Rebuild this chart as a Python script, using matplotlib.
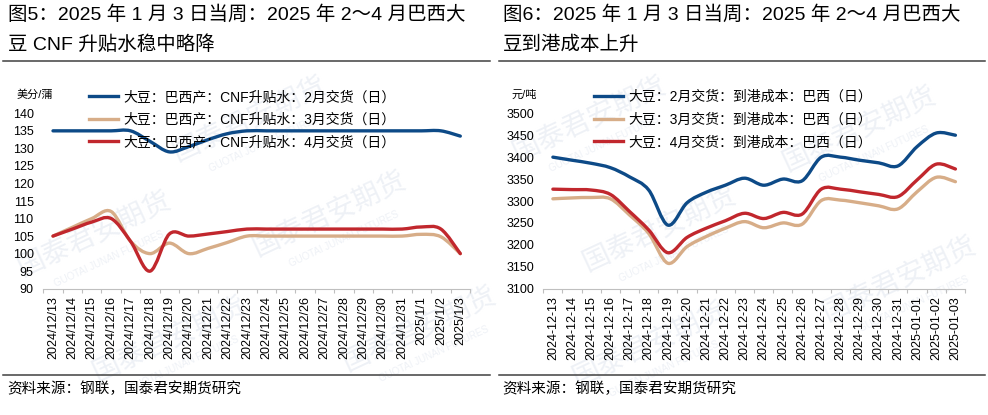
import numpy as np
import matplotlib
matplotlib.use("Agg")
import matplotlib.pyplot as plt
from matplotlib.path import Path
from matplotlib.patches import PathPatch
from matplotlib.lines import Line2D

plt.rcParams['font.family'] = ['Liberation Sans', 'Noto Sans CJK SC', 'DejaVu Sans']

# ---------- data -------------------------------------------------------------
days_left = ["2024/12/13", "2024/12/14", "2024/12/15", "2024/12/16", "2024/12/17",
             "2024/12/18", "2024/12/19", "2024/12/20", "2024/12/21", "2024/12/22",
             "2024/12/23", "2024/12/24", "2024/12/25", "2024/12/26", "2024/12/27",
             "2024/12/28", "2024/12/29", "2024/12/30", "2024/12/31", "2025/1/1",
             "2025/1/2", "2025/1/3"]
days_right = ["2024-12-13", "2024-12-14", "2024-12-15", "2024-12-16", "2024-12-17",
              "2024-12-18", "2024-12-19", "2024-12-20", "2024-12-21", "2024-12-22",
              "2024-12-23", "2024-12-24", "2024-12-25", "2024-12-26", "2024-12-27",
              "2024-12-28", "2024-12-29", "2024-12-30", "2024-12-31", "2025-01-01",
              "2025-01-02", "2025-01-03"]

# CNF premium, US cents / bushel
cnf_feb = [135, 135, 135, 135, 135, 132, 129, 130.5, 132.5, 134.2, 135, 135, 135, 135,
           135, 135, 135, 135, 135, 135, 135, 133.5]
cnf_mar = [105, 107.5, 110, 112, 103.5, 100, 103, 100, 101.5, 103.2, 105, 105, 105, 105,
           105, 105, 105, 105, 105, 105.5, 104.8, 100]
cnf_apr = [105, 107, 109, 110, 103.5, 95, 105.6, 105, 105.6, 106.3, 107, 107, 107, 107,
           107, 107, 107, 107, 107, 107.6, 107, 100]

# landed cost, yuan / ton
cost_feb = [3400, 3393, 3386, 3376, 3355, 3325, 3245, 3296, 3320, 3336, 3352, 3336,
            3350, 3346, 3400, 3400, 3393, 3387, 3380, 3424, 3455, 3450]
cost_mar = [3305, 3307, 3308, 3305, 3268, 3226, 3158, 3196, 3219, 3238, 3253, 3239,
            3250, 3247, 3301, 3302, 3296, 3289, 3282, 3321, 3354, 3344]
cost_apr = [3327, 3326, 3325, 3315, 3276, 3234, 3182, 3217, 3238, 3255, 3272, 3260,
            3274, 3270, 3327, 3327, 3321, 3315, 3310, 3348, 3384, 3373]

labels_left = ["大豆：巴西产：CNF升贴水：2月交货（日）",
               "大豆：巴西产：CNF升贴水：3月交货（日）",
               "大豆：巴西产：CNF升贴水：4月交货（日）"]
labels_right = ["大豆：2月交货：到港成本：巴西（日）",
                "大豆：3月交货：到港成本：巴西（日）",
                "大豆：4月交货：到港成本：巴西（日）"]

colors = ["#0d4a87", "#d7ad88", "#c1272d"]

W, H = 988, 415


def smooth_patch(ax, y, color):
    # excel-like smoothed line: bezier segments between the data points
    x = np.arange(len(y), dtype=float)
    y = np.asarray(y, dtype=float)
    xp = np.concatenate([[x[0]], x, [x[-1]]])
    yp = np.concatenate([[y[0]], y, [y[-1]]])
    verts = [(x[0], y[0])]
    codes = [Path.MOVETO]
    for i in range(len(x) - 1):
        c1 = (x[i] + (xp[i + 2] - xp[i]) / 6, y[i] + (yp[i + 2] - yp[i]) / 6)
        c2 = (x[i + 1] - (xp[i + 3] - xp[i + 1]) / 6, y[i + 1] - (yp[i + 3] - yp[i + 1]) / 6)
        verts += [c1, c2, (x[i + 1], y[i + 1])]
        codes += [Path.CURVE4] * 3
    ax.add_patch(PathPatch(Path(verts, codes), fill=False, edgecolor=color, lw=2.4,
                           capstyle="round", joinstyle="round", zorder=3))


def setup_axes(ax, cats, ylo, yhi, step, pad):
    ax.set_xlim(-0.5, len(cats) - 0.5)
    ax.set_ylim(ylo, yhi)
    ax.set_yticks(np.arange(ylo, yhi + step / 2, step))
    ax.set_xticks(np.arange(len(cats)))
    ax.set_xticklabels(cats, rotation=90, fontsize=9)
    ax.set_xticks(np.arange(len(cats) + 1) - 0.5, minor=True)
    ax.tick_params(axis="x", which="major", length=0, pad=5.5)
    ax.tick_params(axis="x", which="minor", length=3, color="#bfbfbf", width=0.8)
    ax.tick_params(axis="y", length=0, pad=pad, labelsize=9)
    ax.set_facecolor("none")
    ax.set_zorder(2)
    for s in ["top", "right", "left"]:
        ax.spines[s].set_visible(False)
    ax.spines["bottom"].set_color("#bfbfbf")
    ax.spines["bottom"].set_linewidth(0.8)


fig = plt.figure(figsize=(W / 100, H / 100), dpi=100)

# faint watermark behind everything
for (px, py) in [(95, 235), (250, 120), (330, 215), (170, 340), (420, 330),
                 (590, 120), (660, 230), (860, 130), (900, 280), (650, 345)]:
    fig.text(px / W, 1 - py / H, "国泰君安期货", fontsize=20, color="#eef1f6",
             rotation=25, ha="center", va="center", zorder=0)
    fig.text((px + 14) / W, 1 - (py + 24) / H, "GUOTAI JUNAN FUTURES", fontsize=7,
             color="#eef1f6", rotation=25, ha="center", va="center", zorder=0)

# ---------- left panel --------------------------------------------------------
ax1 = fig.add_axes([43.3 / W, 1 - 288.7 / H, (470 - 43.3) / W, 175.4 / H])
setup_axes(ax1, days_left, 90, 140, 5, 7)
for vals, c in zip([cnf_feb, cnf_mar, cnf_apr], colors):
    smooth_patch(ax1, vals, c)
handles = [Line2D([], [], color=c, lw=2.4) for c in colors]
ax1.legend(handles, labels_left, loc="upper left", bbox_to_anchor=(89 / W, 1 - 90 / H),
           bbox_transform=fig.transFigure, frameon=False, fontsize=10, handlelength=2.1,
           handletextpad=0.35, labelspacing=0.62, borderpad=0, borderaxespad=0)
fig.text(17 / W, 1 - 95 / H, "美分/蒲", fontsize=8, va="center", ha="left")

# ---------- right panel -------------------------------------------------------
ax2 = fig.add_axes([543.3 / W, 1 - 288.7 / H, (965 - 543.3) / W, 175.4 / H])
setup_axes(ax2, days_right, 3100, 3500, 50, 6.5)
for vals, c in zip([cost_feb, cost_mar, cost_apr], colors):
    smooth_patch(ax2, vals, c)
ax2.legend(handles, labels_right, loc="upper left", bbox_to_anchor=(594 / W, 1 - 90 / H),
           bbox_transform=fig.transFigure, frameon=False, fontsize=10, handlelength=2.1,
           handletextpad=0.35, labelspacing=0.62, borderpad=0, borderaxespad=0)
fig.text(511 / W, 1 - 95 / H, "元/吨", fontsize=8, va="center", ha="left")

# ---------- titles, rules, source --------------------------------------------
fig.text(8 / W, 1 - 15 / H, "图5：2025 年 1 月 3 日当周：2025 年 2～4 月巴西大",
         fontsize=14, va="center", ha="left")
fig.text(8 / W, 1 - 45 / H, "豆 CNF 升贴水稳中略降", fontsize=14, va="center", ha="left")
fig.text(503 / W, 1 - 15 / H, "图6：2025 年 1 月 3 日当周：2025 年 2～4 月巴西大",
         fontsize=14, va="center", ha="left")
fig.text(503 / W, 1 - 45 / H, "豆到港成本上升", fontsize=14, va="center", ha="left")

for x0, x1 in [(3, 490), (499, 985)]:
    for yy in [61.5, 374.5]:
        fig.add_artist(Line2D([x0 / W, x1 / W], [1 - yy / H, 1 - yy / H],
                              transform=fig.transFigure, color="#404040", lw=1.1))

fig.text(7 / W, 1 - 389 / H, "资料来源：钢联，国泰君安期货研究", fontsize=10.5,
         va="center", ha="left")
fig.text(502 / W, 1 - 389 / H, "资料来源：钢联，国泰君安期货研究", fontsize=10.5,
         va="center", ha="left")

fig.savefig("out.png", dpi=100)
